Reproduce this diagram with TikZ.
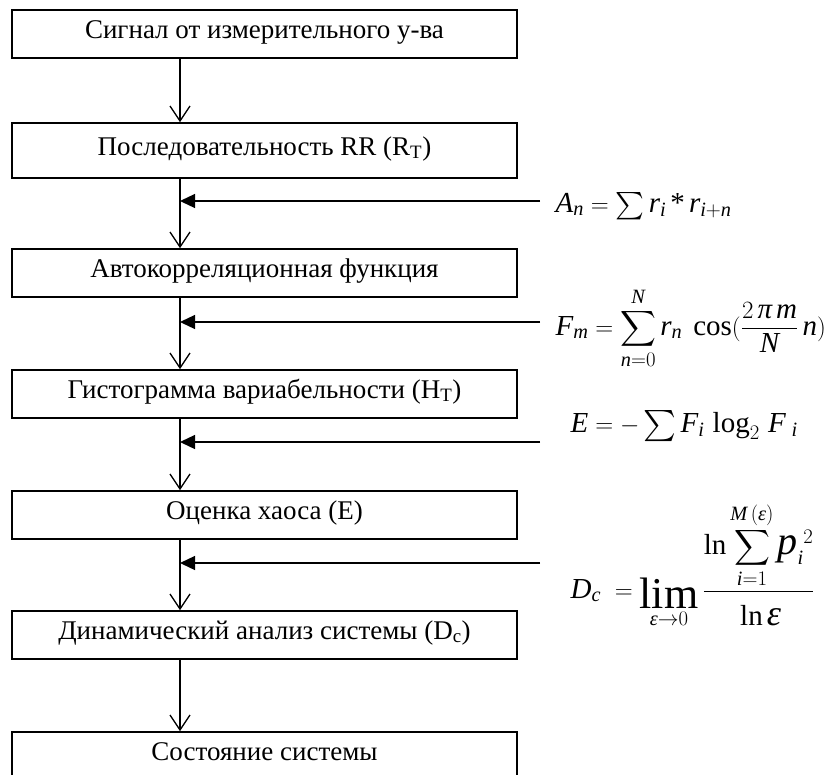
\documentclass[tikz,border=0pt]{standalone}
\usepackage{amsmath}
\usepackage{graphicx}
\usepackage{fontspec}
\setmainfont{Liberation Serif}
\usetikzlibrary{arrows.meta}
% italic variable set in the text font
\newcommand\mv[1]{\text{\itshape #1}}
% enlarged summation sign, centred on the maths axis
\newcommand\wsum[1]{\mathop{\vcenter{\hbox{\scalebox{#1}{$\textstyle\sum$}}}}\nolimits}
\begin{document}
\begin{tikzpicture}[x=1pt,y=-1pt,line width=1.3pt,
  block/.style={draw,rectangle,minimum width=505pt,minimum height=48pt,
    inner sep=0pt,line width=1.6pt,text height=19pt,text depth=11pt,
    font=\fontsize{27}{31}\selectfont},
  flow/.style={-{Straight Barb[length=15pt,width=20pt,line width=1.3pt]}},
  feed/.style={-{Triangle[length=15pt,width=14pt]}},
  formula/.style={anchor=base west,inner sep=0pt,font=\fontsize{29}{35}\selectfont}]
\useasboundingbox (0,0) rectangle (840,774);

% processing stages
\node[block] (b1) at (264.5,34)  {Сигнал от измерительного у-ва};
\node[block,minimum height=55pt,text depth=10pt] (b2) at (264.5,150.5)
  {Последовательность RR (R\textsubscript{T})};
\node[block] (b3) at (264.5,273) {Автокорреляционная функция};
\node[block] (b4) at (264.5,394) {Гистограмма вариабельности (H\textsubscript{T})};
\node[block] (b5) at (264.5,515) {Оценка хаоса (E)};
\node[block] (b6) at (264.5,635) {Динамический анализ системы (D\textsubscript{c})};
\node[block] (b7) at (264.5,756) {Состояние системы};

% vertical flow line
\coordinate (spine) at (180,0);
\foreach \a/\b in {b1/b2,b2/b3,b3/b4,b4/b5,b5/b6,b6/b7}
  \draw[flow] (\a.south -| spine) -- (\b.north -| spine);

% inputs from the right
\coordinate (inA) at (540,201);
\coordinate (inF) at (540,322);
\coordinate (inE) at (540,442);
\coordinate (inD) at (540,563);
\foreach \c in {inA,inF,inE,inD}
  \draw[feed] (\c) -- (\c -| spine);

% formulas
\node[formula] (fA) at (555,212)
  {$\mv{A}_{\mv{n}} = \wsum{1.1} \mv{r}_{\mv{i}}\,\text{*}\,\mv{r}_{\mv{i}+\mv{n}}$};
\node[formula] (fF) at (555,335)
  {$\displaystyle \mv{F}_{\mv{m}} = \sum_{\mv{n}=0}^{\mv{N}} \mv{r}_{\mv{n}}\;\cos(\frac{2\,\mv{π}\,\mv{m}}{\mv{N}}\,\mv{n})$};
\node[formula] (fE) at (570,432)
  {$\mv{E} = -\wsum{1.25} \mv{F}_{\mv{i}}\,\log_2\, \mv{F}_{\;\mv{i}}$};
\node[formula] (fD) at (570,598)
  {$\displaystyle \mv{D}_{\mv{c}} \;= \mathop{\raisebox{-10pt}{\fontsize{44}{44}\selectfont lim}}\limits_{\mv{ε}\to 0}
   \frac{\displaystyle \ln\sum_{\mv{i}=1}^{\mv{M}\,(\mv{ε})}\text{\fontsize{40}{40}\selectfont\itshape p}_{\mv{i}}^{\;2}}
        {\rule{0pt}{30pt}\ln\text{\fontsize{36}{36}\selectfont\itshape ε}}$};
\end{tikzpicture}
\end{document}
